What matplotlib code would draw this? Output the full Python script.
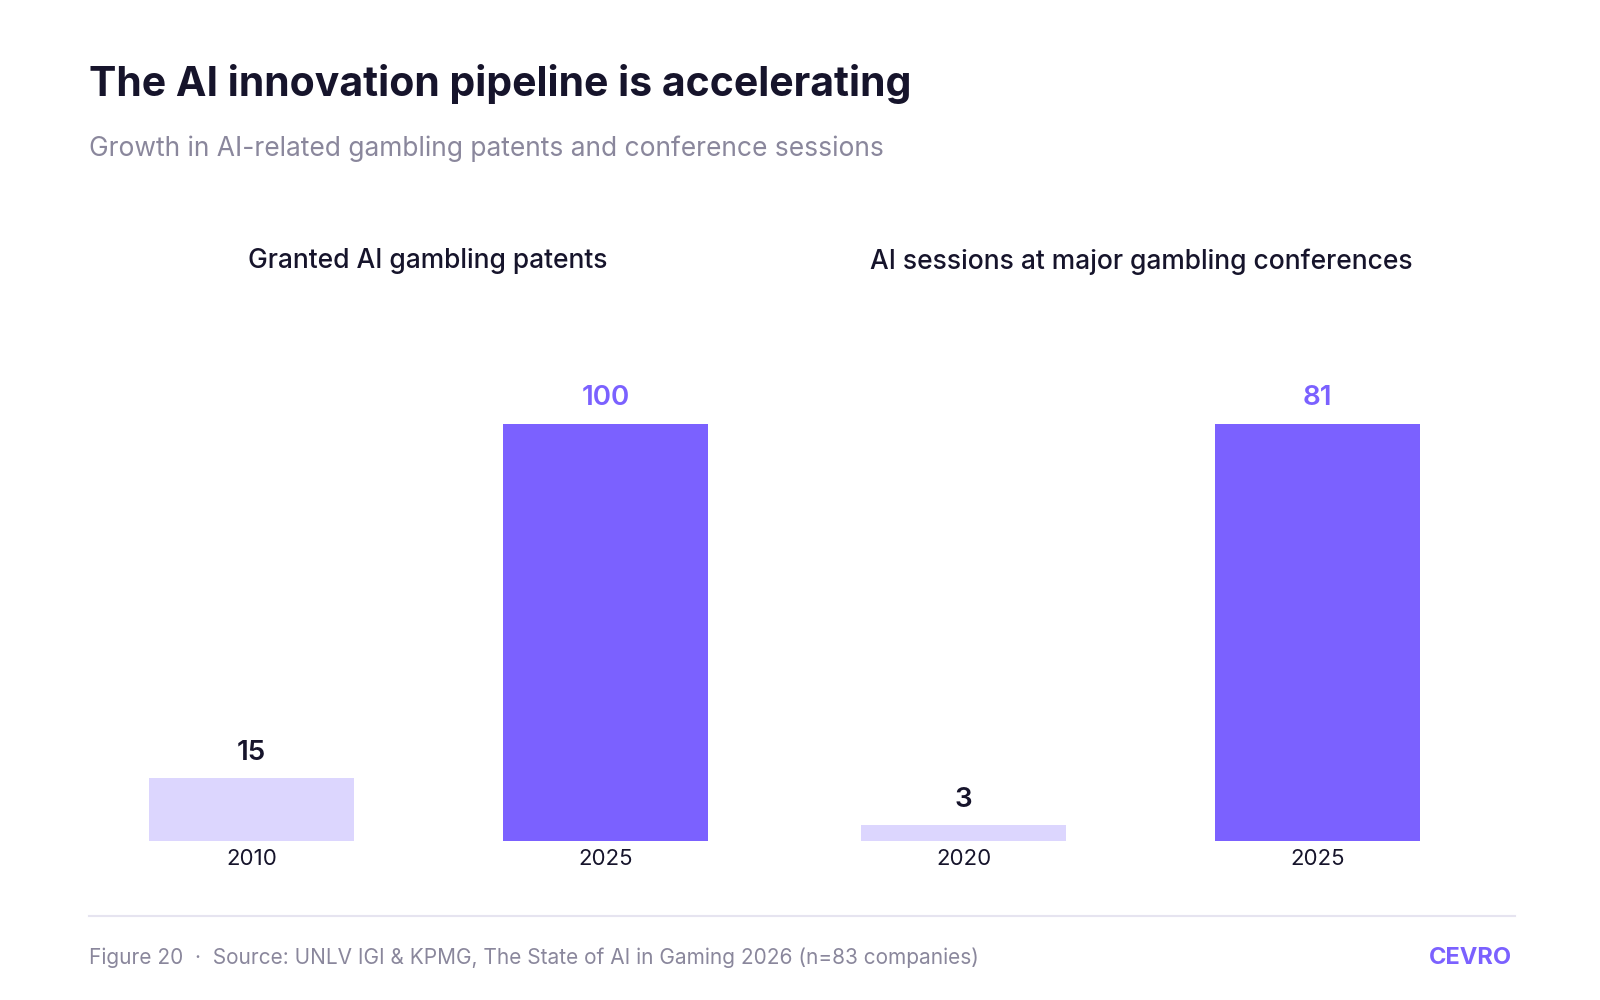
import matplotlib
matplotlib.use("Agg")
import matplotlib.pyplot as plt
from matplotlib.lines import Line2D

plt.rcParams['font.family'] = ['Inter', 'DejaVu Sans']

left_years = ["2010", "2025"]
left_values = [15, 100]
right_years = ["2020", "2025"]
right_values = [3, 81]
panel_titles = ["Granted AI gambling patents", "AI sessions at major gambling conferences"]

W, H = 1566, 979
fig = plt.figure(figsize=(16, 10), dpi=100)
DARK = "#16142B"; GREY = "#8A879C"; LIGHT = "#DCD6FE"; PURPLE = "#7B61FF"

def fx(p): return p / W
def fy(p): return 1 - p / H

fig.text(fx(87), fy(82), "The AI innovation pipeline is accelerating", fontsize=29.5, fontweight="bold",
         color=DARK, va="center")
fig.text(fx(87), fy(146), "Growth in AI-related gambling patents and conference sessions", fontsize=19,
         color=GREY, va="center")

for i, (years, vals) in enumerate([(left_years, left_values), (right_years, right_values)]):
    x0 = 73 if i == 0 else 770
    ax = fig.add_axes([fx(x0), fy(823), 693 / W, 408 / H])
    colors = [LIGHT, PURPLE]
    ax.bar(range(2), vals, width=0.58, color=colors)
    ax.set_xlim(-0.5, 1.5)
    ax.set_ylim(0, max(vals))
    for j, v in enumerate(vals):
        ax.text(j, v + max(vals) * 0.03, str(v), ha="center", va="bottom", fontsize=20,
                fontweight="semibold", color=DARK if j == 0 else PURPLE)
    ax.set_xticks(range(2))
    ax.set_xticklabels(years, fontsize=16, color=DARK)
    ax.tick_params(axis="x", length=0, pad=6)
    ax.set_yticks([])
    for s in ax.spines.values():
        s.set_visible(False)
    ax.patch.set_alpha(0)
    fig.text(fx(419 if i == 0 else 1117), fy(256), panel_titles[i], fontsize=19, fontweight="medium",
             color=DARK, ha="center", va="center")

fig.add_artist(Line2D([fx(87), fx(1483)], [fy(897), fy(897)], color="#E6E4F0", lw=1.5))
fig.text(fx(87), fy(938), "Figure 20  ·  Source: UNLV IGI & KPMG, The State of AI in Gaming 2026 (n=83 companies)",
         fontsize=15, color=GREY, va="center")
fig.text(fx(1480), fy(938), "CEVRO", fontsize=17, fontweight="bold", color=PURPLE, va="center", ha="right")

fig.savefig("out.png", dpi=100, facecolor="white")
